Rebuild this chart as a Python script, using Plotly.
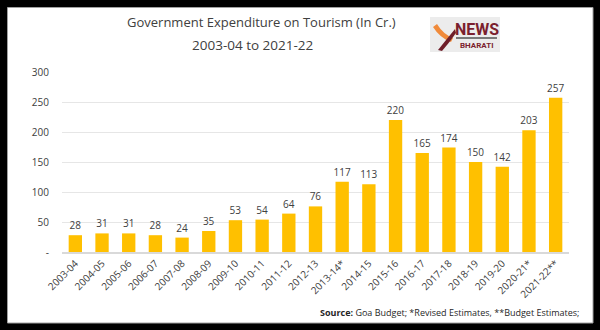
import plotly.graph_objects as go

categories = ["2003-04", "2004-05", "2005-06", "2006-07", "2007-08", "2008-09",
              "2009-10", "2010-11", "2011-12", "2012-13", "2013-14*", "2014-15",
              "2015-16", "2016-17", "2017-18", "2018-19", "2019-20", "2020-21*",
              "2021-22**"]
values = [28, 31, 31, 28, 24, 35, 53, 54, 64, 76, 117, 113, 220, 165, 174, 150, 142, 203, 257]
ytick_vals = [0, 50, 100, 150, 200, 250, 300]
ytick_text = ["-", "50", "100", "150", "200", "250", "300"]

W, H = 600, 330
def px(x): return x / W
def py(y): return 1 - y / H

FONT = "Open Sans"
TXT = "#404040"

fig = go.Figure(go.Bar(
    x=categories, y=values,
    marker=dict(color="#FFC000", line=dict(width=0)),
    text=[str(v) for v in values], textposition="outside",
    textfont=dict(family=FONT, size=10, color=TXT),
    constraintext="none",
    cliponaxis=False, width=0.5,
))

fig.update_layout(
    width=W, height=H,
    margin=dict(l=0, r=0, t=0, b=0, autoexpand=False),
    paper_bgcolor="black", plot_bgcolor="white",
    showlegend=False,
    font=dict(family=FONT, color=TXT),
    xaxis=dict(type="category", domain=[px(62), px(569)], tickangle=-45,
               tickfont=dict(family=FONT, size=10, color=TXT),
               showgrid=False, showline=True, linecolor="#d9d9d9", linewidth=1.5,
               ticks="", fixedrange=True, automargin=False),
    yaxis=dict(domain=[py(252), py(72)], range=[0, 300],
               tickvals=ytick_vals, ticktext=ytick_text,
               tickfont=dict(family=FONT, size=10, color=TXT),
               showgrid=True, gridcolor="#e6e6e6", gridwidth=1,
               zeroline=False, showline=False, ticklabelstandoff=12,
               automargin=False, fixedrange=True),
    shapes=[
        dict(type="rect", xref="paper", yref="paper", x0=px(7.5), x1=px(593), y0=py(7.5), y1=py(323),
             fillcolor="white", line=dict(color="#a0a0a0", width=1), layer="below"),
        dict(type="rect", xref="paper", yref="paper", x0=px(430), x1=px(500), y0=py(17), y1=py(52),
             fillcolor="#ececec", line=dict(width=0), layer="below"),
        dict(type="line", xref="paper", yref="paper", x0=px(456), x1=px(497), y0=py(38), y1=py(38),
             line=dict(color="#7a7a7a", width=2)),
        dict(type="path", xref="paper", yref="paper",
             path=f"M {px(433)},{py(27)} Q {px(440)},{py(38)} {px(451)},{py(42)} L {px(453)},{py(38)} Q {px(443)},{py(34)} {px(437)},{py(24)} Z",
             fillcolor="#f08a3a", line=dict(width=0)),
        dict(type="path", xref="paper", yref="paper",
             path=f"M {px(438)},{py(50)} Q {px(446)},{py(40)} {px(455)},{py(29)} L {px(456)},{py(33)} Q {px(449)},{py(43)} {px(442)},{py(51)} Z",
             fillcolor="#6e1e2a", line=dict(width=0)),
    ],
    annotations=[
        dict(text="Government Expenditure on Tourism (In Cr.)", x=px(261), y=py(22),
             xref="paper", yref="paper", showarrow=False, xanchor="center", yanchor="middle",
             font=dict(family=FONT, size=13, color=TXT)),
        dict(text="2003-04 to 2021-22", x=px(252), y=py(45),
             xref="paper", yref="paper", showarrow=False, xanchor="center", yanchor="middle",
             font=dict(family=FONT, size=13.5, color=TXT)),
        dict(text="<b>NEWS</b>", x=px(477), y=py(29), xref="paper", yref="paper", showarrow=False,
             xanchor="center", yanchor="middle", font=dict(family="Roboto", size=16, color="#7b1f2e")),
        dict(text="<b>BHARATI</b>", x=px(477), y=py(45), xref="paper", yref="paper", showarrow=False,
             xanchor="center", yanchor="middle", font=dict(family="Roboto", size=8, color="#7b1f2e")),
        dict(text="<b>Source:</b> Goa Budget; *Revised Estimates, **Budget Estimates;",
             x=px(581), y=py(312), xref="paper", yref="paper", showarrow=False,
             xanchor="right", yanchor="middle", font=dict(family=FONT, size=9, color="#262626")),
    ],
)

fig.write_html("out.html")
